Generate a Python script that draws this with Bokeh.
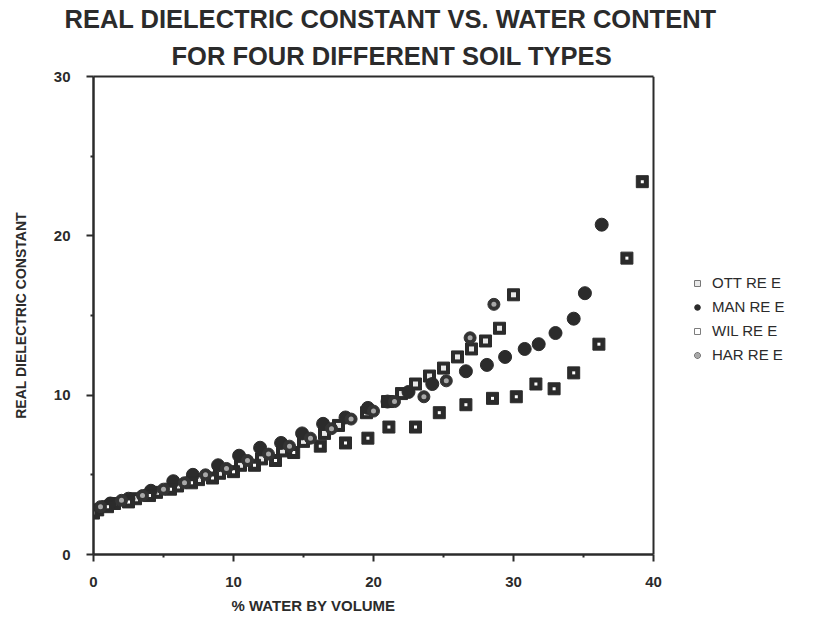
from bokeh.plotting import figure
from bokeh.models import (Range1d, FixedTicker, Legend, LegendItem, Title,
                          ColumnDataSource, LinearAxis, Span)
from bokeh.embed import file_html
from bokeh.resources import INLINE

# Water content (% by volume) and real dielectric constant for each soil
ott_x = [0.3, 1.5, 3.0, 4.5, 6.0, 7.5, 9.0, 10.5, 12.0, 13.5, 15.0, 16.5, 17.5,
         19.5, 21.0, 22.0, 23.0, 24.0, 25.0, 26.0, 27.0, 28.0, 29.0, 30.0]
ott_y = [2.8, 3.2, 3.5, 3.9, 4.3, 4.7, 5.1, 5.6, 6.0, 6.5, 7.1, 7.6, 8.1,
         8.9, 9.6, 10.1, 10.7, 11.2, 11.7, 12.4, 12.9, 13.4, 14.2, 16.3]

man_x = [0.0, 1.2, 2.5, 4.1, 5.7, 7.1, 8.9, 10.4, 11.9, 13.4, 14.9, 16.4, 18.0,
         19.6, 21.0, 22.5, 24.2, 26.6, 28.1, 29.4, 30.8, 31.8, 33.0, 34.3, 35.1, 36.3]
man_y = [2.7, 3.2, 3.5, 4.0, 4.6, 5.0, 5.6, 6.2, 6.7, 7.0, 7.6, 8.2, 8.6,
         9.2, 9.6, 10.2, 10.7, 11.5, 11.9, 12.4, 12.9, 13.2, 13.9, 14.8, 16.4, 20.7]

wil_x = [0.0, 1.0, 2.5, 4.0, 5.5, 7.0, 8.5, 10.0, 11.5, 13.0, 14.3, 16.2, 18.0,
         19.6, 21.1, 23.0, 24.7, 26.6, 28.5, 30.2, 31.6, 32.9, 34.3, 36.1, 38.1, 39.2]
wil_y = [2.6, 3.0, 3.3, 3.7, 4.1, 4.5, 4.8, 5.2, 5.6, 5.9, 6.4, 6.8, 7.0,
         7.3, 8.0, 8.0, 8.9, 9.4, 9.8, 9.9, 10.7, 10.4, 11.4, 13.2, 18.6, 23.4]

har_x = [0.5, 2.0, 3.5, 5.0, 6.5, 8.0, 9.5, 11.0, 12.5, 14.0, 15.5, 17.0, 18.4,
         20.0, 21.5, 23.6, 25.2, 26.9, 28.6]
har_y = [3.0, 3.4, 3.7, 4.1, 4.5, 5.0, 5.4, 5.9, 6.3, 6.8, 7.3, 7.9, 8.5,
         9.0, 9.6, 9.9, 10.9, 13.6, 15.7]

series_names = ["OTT RE E", "MAN RE E", "WIL RE E", "HAR RE E"]
x_ticks = [0, 10, 20, 30, 40]
y_ticks = [0, 10, 20, 30]
x_min, x_max = 0, 40
y_min, y_max = 0, 30

title_lines = ["REAL DIELECTRIC CONSTANT VS. WATER CONTENT",
               "FOR FOUR DIFFERENT SOIL TYPES"]
x_title = "% WATER BY VOLUME"
y_title = "REAL DIELECTRIC CONSTANT"

INK = "#2b2b2b"
FONT = "Liberation Sans"

# The frame runs to the right edge so the key can sit beside the plot box;
# the box itself is closed at x_max by a span and a bare top axis.
W, H = 814, 622
LEFT, BOX_RIGHT, TOP, BOTTOM = 93, 653, 76, 68
px_per_x = (BOX_RIGHT - LEFT) / (x_max - x_min)
x_view_end = x_min + (W - LEFT) / px_per_x

p = figure(width=W, height=H, output_backend="svg", toolbar_location=None,
           x_range=Range1d(x_min, x_view_end), y_range=Range1d(y_min, y_max),
           min_border_left=LEFT, min_border_right=0,
           min_border_top=TOP, min_border_bottom=BOTTOM)
p.background_fill_color = "white"
p.border_fill_color = "white"
p.grid.visible = False
p.outline_line_color = None

x_axis = p.xaxis[0]
y_axis = p.yaxis[0]

for ax, ticks, minors in ((x_axis, x_ticks, [5, 15, 25, 35]),
                          (y_axis, y_ticks, [5, 15, 25])):
    ax.ticker = FixedTicker(ticks=ticks, minor_ticks=minors)
    ax.axis_line_color = INK
    ax.axis_line_width = 2.5
    ax.major_tick_line_color = INK
    ax.major_tick_line_width = 2
    ax.major_tick_out = 7
    ax.major_tick_in = 0
    ax.minor_tick_line_color = INK
    ax.minor_tick_line_width = 2
    ax.minor_tick_out = 3
    ax.minor_tick_in = 0
    ax.major_label_text_font = FONT
    ax.major_label_text_font_style = "bold"
    ax.major_label_text_font_size = "15px"
    ax.major_label_text_color = INK
x_axis.bounds = (x_min, x_max)
x_axis.major_label_standoff = 15
y_axis.major_label_standoff = 16

y_axis.axis_label = y_title
y_axis.axis_label_text_font = FONT
y_axis.axis_label_text_font_style = "bold"
y_axis.axis_label_text_font_size = "14px"
y_axis.axis_label_text_color = INK
y_axis.axis_label_standoff = 22

# closing lines of the plot box: a bare axis along the top, a span at x_max
top_axis = LinearAxis(bounds=(x_min, x_max), axis_line_color=INK,
                      axis_line_width=2,
                      major_tick_line_color=None, minor_tick_line_color=None,
                      major_tick_out=0, major_tick_in=0,
                      minor_tick_out=0, minor_tick_in=0,
                      major_label_text_color=None,
                      major_label_text_font_size="0px",
                      major_label_standoff=0)
p.add_layout(top_axis, "above")
p.add_layout(Span(location=x_max, dimension="height", line_color=INK,
                  line_width=2))

# two-line heading: the figure's own title carries the upper line
heading_style = dict(align="left", text_font=FONT, text_font_style="bold",
                     text_font_size="25.5px", text_color=INK)
p.title.text = title_lines[0]
for k, v in heading_style.items():
    setattr(p.title, k, v)
p.title.offset = -29
p.title.standoff = 0
p.add_layout(Title(text=title_lines[1], offset=78, standoff=14,
                   **heading_style), "above")

x_label = Title(text=x_title, align="left", offset=138, text_font=FONT,
                text_font_style="bold", text_font_size="15px",
                text_color=INK, standoff=11)
p.add_layout(x_label, "below")

ott = ColumnDataSource(dict(x=ott_x, y=ott_y))
man = ColumnDataSource(dict(x=man_x, y=man_y))
wil = ColumnDataSource(dict(x=wil_x, y=wil_y))
har = ColumnDataSource(dict(x=har_x, y=har_y))

# open-looking squares: dark square with a light core
r_ott_a = p.scatter("x", "y", source=ott, marker="square", size=12,
                    fill_color=INK, line_color=INK)
r_ott_b = p.scatter("x", "y", source=ott, marker="square", size=5,
                    fill_color="#e8e8e8", line_color=None)
# filled circles
r_man = p.scatter("x", "y", source=man, marker="circle", size=13,
                  fill_color=INK, line_color=INK)
# filled squares with a pin-point centre
r_wil_a = p.scatter("x", "y", source=wil, marker="square", size=12,
                    fill_color=INK, line_color=INK)
r_wil_b = p.scatter("x", "y", source=wil, marker="square", size=3,
                    fill_color="white", line_color=None)
# dark dots with a grey core
r_har_a = p.scatter("x", "y", source=har, marker="circle", size=12,
                    fill_color="#333333", line_color="#333333")
r_har_b = p.scatter("x", "y", source=har, marker="circle", size=5,
                    fill_color="#a8a8a8", line_color=None)

legend = Legend(items=[
    LegendItem(label=series_names[0], renderers=[r_ott_a, r_ott_b]),
    LegendItem(label=series_names[1], renderers=[r_man]),
    LegendItem(label=series_names[2], renderers=[r_wil_a, r_wil_b]),
    LegendItem(label=series_names[3], renderers=[r_har_a, r_har_b]),
], location=(597, 191))
legend.background_fill_alpha = 0
legend.border_line_color = None
legend.padding = 0
legend.margin = 0
legend.spacing = 7
legend.glyph_width = 14
legend.glyph_height = 14
legend.label_height = 14
legend.label_standoff = 8
legend.label_text_font = FONT
legend.label_text_font_size = "15px"
legend.label_text_color = INK
p.add_layout(legend, "center")

open("out.html", "w").write(file_html(p, INLINE))
